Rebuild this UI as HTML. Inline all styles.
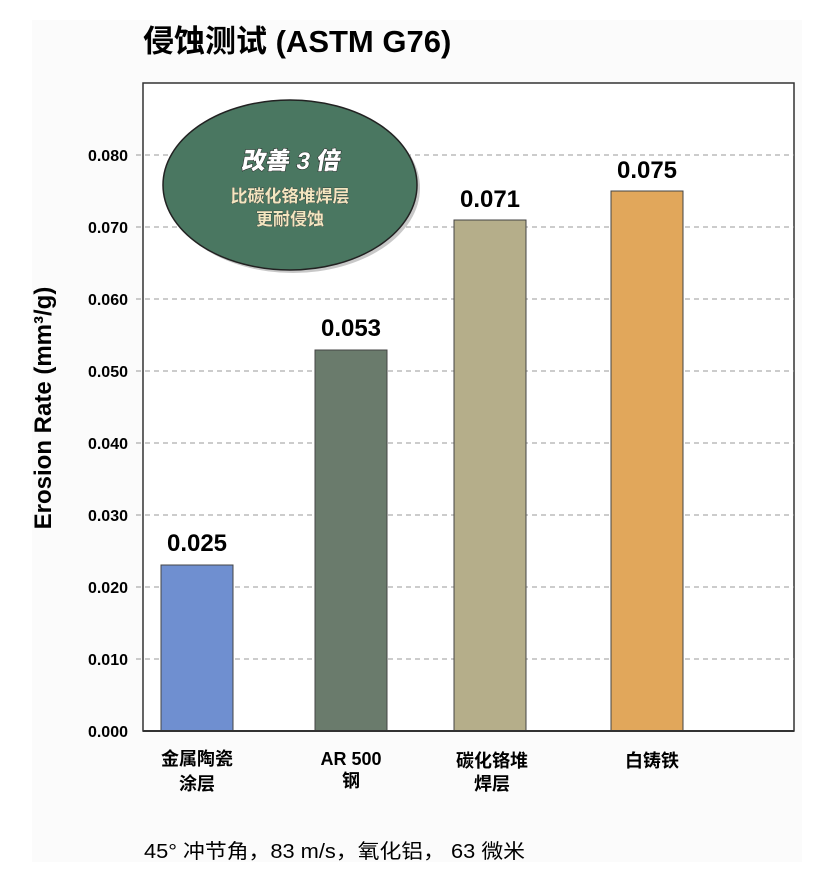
<!DOCTYPE html>
<html><head><meta charset="utf-8"><style>
html,body{margin:0;padding:0;background:#fff}
svg{display:block}
text{font-family:"Liberation Sans","Noto Sans CJK SC",sans-serif}
</style></head><body>
<svg width="826" height="877" viewBox="0 0 826 877">
<rect x="32" y="20" width="770" height="842" fill="#fbfbfb"/>
<text x="143" y="52" font-size="31" font-weight="bold" fill="#000">侵蚀测试 (ASTM G76)</text>
<rect x="143" y="83" width="651" height="648" fill="#fff" stroke="#333" stroke-width="1.5"/>
<g stroke="#999" stroke-dasharray="5,4" stroke-width="1">
<line x1="136" y1="659" x2="794" y2="659"/><line x1="136" y1="587" x2="794" y2="587"/>
<line x1="136" y1="515" x2="794" y2="515"/><line x1="136" y1="443" x2="794" y2="443"/>
<line x1="136" y1="371" x2="794" y2="371"/><line x1="136" y1="299" x2="794" y2="299"/>
<line x1="136" y1="227" x2="794" y2="227"/><line x1="136" y1="155" x2="794" y2="155"/>
</g>
<g font-size="16" font-weight="bold" text-anchor="end" fill="#000">
<text x="128" y="737">0.000</text><text x="128" y="665">0.010</text><text x="128" y="593">0.020</text>
<text x="128" y="521">0.030</text><text x="128" y="449">0.040</text><text x="128" y="377">0.050</text>
<text x="128" y="305">0.060</text><text x="128" y="233">0.070</text><text x="128" y="161">0.080</text>
</g>
<text transform="translate(51,408) rotate(-90)" font-size="24" font-weight="bold" text-anchor="middle">Erosion Rate (mm³/g)</text>
<g stroke="#444" stroke-width="1">
<rect x="161" y="565" width="72" height="166" fill="#6f8fd0"/>
<rect x="315" y="350" width="72" height="381" fill="#6a7b6c"/>
<rect x="454" y="220" width="72" height="511" fill="#b5ae8a"/>
<rect x="611" y="191" width="72" height="540" fill="#e1a75b"/>
</g>
<line x1="143" y1="731" x2="794" y2="731" stroke="#333" stroke-width="2"/>
<g font-size="24" font-weight="bold" text-anchor="middle">
<text x="197" y="551">0.025</text><text x="351" y="336">0.053</text>
<text x="490" y="207">0.071</text><text x="647" y="178">0.075</text>
</g>
<g font-size="18" font-weight="bold" text-anchor="middle">
<text x="197" y="765">金属陶瓷</text><text x="197" y="790">涂层</text>
<text x="351" y="765">AR 500</text><text x="351" y="787">钢</text>
<text x="492" y="767">碳化铬堆</text><text x="492" y="790">焊层</text>
<text x="652" y="767">白铸铁</text>
</g>
<text x="144" y="858" font-size="20" textLength="381" lengthAdjust="spacingAndGlyphs">45° 冲节角，83 m/s，氧化铝， 63 微米</text>
<ellipse cx="293" cy="188" rx="127" ry="85" fill="#c8c8c8"/>
<ellipse cx="290" cy="185" rx="127" ry="85" fill="#4a7761" stroke="#222" stroke-width="1.5"/>
<text x="290" y="169" font-size="24" font-weight="900" text-anchor="middle" fill="#fff" stroke="#222" stroke-width="1" paint-order="stroke" transform="skewX(-10) translate(30,0)">改善 3 倍</text>
<text x="290" y="202" font-size="17" font-weight="bold" text-anchor="middle" fill="#f3e6c0" stroke="#333" stroke-width="0.6" paint-order="stroke">比碳化铬堆焊层</text>
<text x="290" y="225" font-size="17" font-weight="bold" text-anchor="middle" fill="#f3e6c0" stroke="#333" stroke-width="0.6" paint-order="stroke">更耐侵蚀</text>
</svg>
</body></html>
